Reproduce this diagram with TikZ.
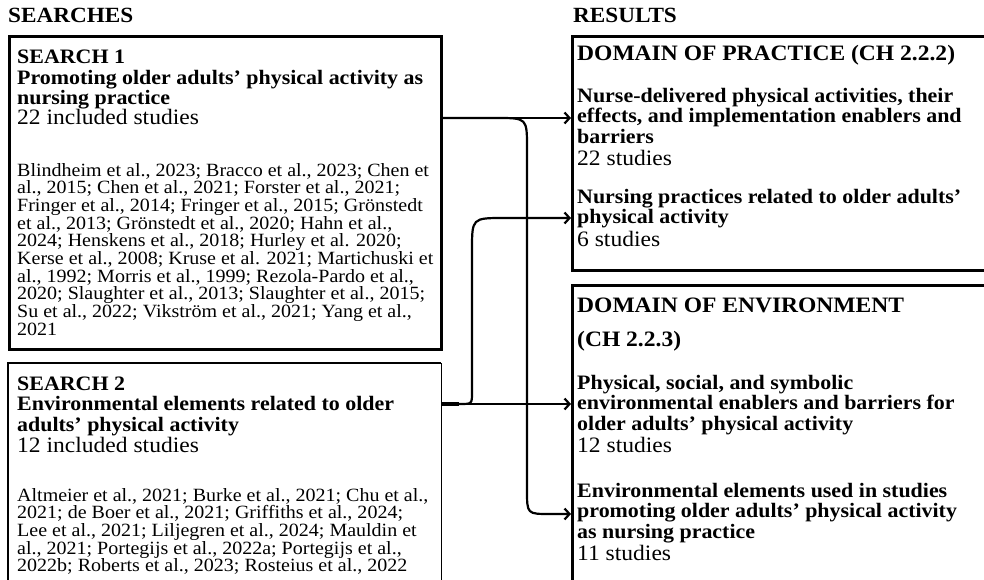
\documentclass[tikz,border=0pt]{standalone}
\usepackage{fontspec}
\setmainfont[FakeStretch=1.07]{Liberation Serif}
\usetikzlibrary{arrows.meta}
% left-aligned stack of lines, baseline = first line, fixed line pitch
\newcommand\linesblock[1]{\vtop{\lineskiplimit=-50pt\lineskip=0pt\halign{##\hfil\cr#1\crcr}}}
\begin{document}
\begin{tikzpicture}[x=1pt,y=-1pt,
  frame/.style={draw,line width=2.6pt,inner sep=0pt,anchor=north west},
  hd/.style={anchor=base west,inner sep=0pt,font=\fontsize{21.7}{23}\selectfont\bfseries},
  dom/.style={anchor=base west,inner sep=0pt,font=\fontsize{22}{34}\selectfont\bfseries},
  ttl/.style={anchor=base west,inner sep=0pt,font=\fontsize{20.5}{20.5}\selectfont\bfseries},
  cnt/.style={anchor=base west,inner sep=0pt,font=\fontsize{22}{22}\selectfont},
  refs/.style={anchor=base west,inner sep=0pt,font=\fontsize{18.7}{17.7}\selectfont},
  conn/.style={line width=2.2pt,-{Straight Barb[length=5pt,width=11pt,line width=2.2pt]}}
]
\useasboundingbox (0,0) rectangle (984,580);
\clip (0,0) rectangle (984,580);

% frames (the right-hand and lower ones run off the page)
\node[frame,minimum width=432pt,minimum height=313pt] (s1) at (8,35) {};
\node[inner sep=0pt,anchor=north west,minimum width=433pt,minimum height=260pt] (s2) at (8,363) {};
\draw[line width=2.6pt] (s2.south west) -- (s2.north west) -- (s2.north east);
\draw[line width=1.4pt] (s2.north east) -- (s2.south east);
\node[frame,minimum width=450pt,minimum height=234pt] (prac) at (571,35) {};
\node[frame,minimum width=450pt,minimum height=330pt] (env) at (571,284) {};

% column headings
\node[hd] (hS) at (8,23) {SEARCHES};
\node[hd] (hR) at (573,23) {RESULTS};

% search 1
\node[ttl] (s1t) at (17,64) {\linesblock{SEARCH 1\cr Promoting older adults’ physical activity as\cr nursing practice}};
\node[cnt] (s1n) at (17,125) {22 included studies};
\node[refs] (s1r) at (17,176) {\linesblock{Blindheim et al., 2023; Bracco et al., 2023; Chen et\cr
al., 2015; Chen et al., 2021; Forster et al., 2021;\cr
Fringer et al., 2014; Fringer et al., 2015; Grönstedt\cr
et al., 2013; Grönstedt et al., 2020; Hahn et al.,\cr
2024; Henskens et al., 2018; Hurley et al. 2020;\cr
Kerse et al., 2008; Kruse et al. 2021; Martichuski et\cr
al., 1992; Morris et al., 1999; Rezola-Pardo et al.,\cr
2020; Slaughter et al., 2013; Slaughter et al., 2015;\cr
Su et al., 2022; Vikström et al., 2021; Yang et al.,\cr
2021}};

% search 2
\node[ttl] (s2t) at (17,390) {\linesblock{SEARCH 2\cr Environmental elements related to older\cr adults’ physical activity}};
\node[cnt] (s2n) at (17,452) {12 included studies};
\node[refs] (s2r) at (17,501) {\linesblock{Altmeier et al., 2021; Burke et al., 2021; Chu et al.,\cr
2021; de Boer et al., 2021; Griffiths et al., 2024;\cr
Lee et al., 2021; Liljegren et al., 2024; Mauldin et\cr
al., 2021; Portegijs et al., 2022a; Portegijs et al.,\cr
2022b; Roberts et al., 2023; Rosteius et al., 2022}};

% domain of practice
\node[dom] (pd) at (577,61) {DOMAIN OF PRACTICE (CH 2.2.2)};
\node[ttl] (p1t) at (577,102.5) {\linesblock{Nurse-delivered physical activities, their\cr effects, and implementation enablers and\cr barriers}};
\node[cnt] (p1n) at (577,166) {22 studies};
\node[ttl] (p2t) at (577,203) {\linesblock{Nursing practices related to older adults’\cr physical activity}};
\node[cnt] (p2n) at (577,246) {6 studies};

% domain of environment
\node[dom] (ed) at (577,312) {\linesblock{DOMAIN OF ENVIRONMENT\cr(CH 2.2.3)}};
\node[ttl] (e1t) at (577,389) {\linesblock{Physical, social, and symbolic\cr environmental enablers and barriers for\cr older adults’ physical activity}};
\node[cnt] (e1n) at (577,452) {12 studies};
\node[ttl] (e2t) at (577,497) {\linesblock{Environmental elements used in studies\cr promoting older adults’ physical activity\cr as nursing practice}};
\node[cnt] (e2n) at (577,560) {11 studies};

% connectors
\draw[conn] (s1.east |- 0,118) -- (prac.west |- 0,118);
\draw[conn] (s1.east |- 0,118) -- (497,118) .. controls (527,118) .. (527,148)
  -- (527,490) .. controls (527,514) .. (550,514) -- (env.west |- 0,514);
\draw[conn] (s2.east |- 0,404) -- (env.west |- 0,404);
\draw[conn] (s2.east |- 0,404) -- (460,404) .. controls (472,404) .. (472,392)
  -- (472,250) .. controls (472,218) .. (504,218) -- (prac.west |- 0,218);
\draw[line width=3.8pt] (s2.east |- 0,404) -- (459,404);
\end{tikzpicture}
\end{document}
